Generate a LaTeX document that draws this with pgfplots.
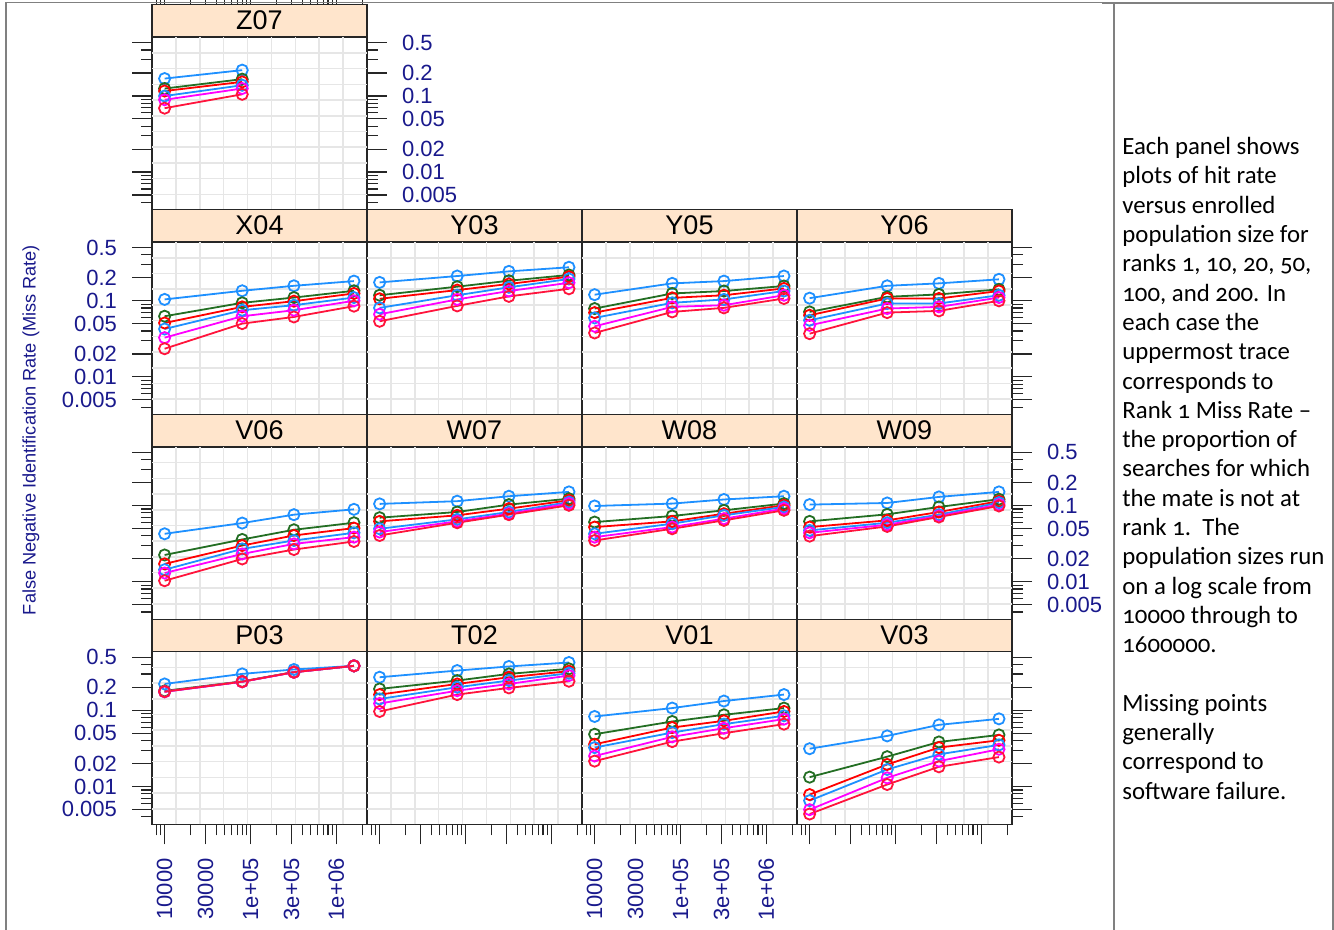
\documentclass[border=0pt]{standalone}
\usepackage{pgfplots}
\pgfplotsset{compat=1.18}
\usepackage{pgfplotstable}
\usepackage{fontspec}
\setmainfont{Liberation Sans}
\newfontfamily\notefont{Carlito}[Numbers=OldStyle]

\definecolor{stripbg}{RGB}{255,229,204}
\definecolor{tickblue}{RGB}{25,25,140}
\definecolor{gridc}{RGB}{230,230,230}
\definecolor{cA}{RGB}{30,144,255}
\definecolor{cB}{RGB}{35,110,35}
\definecolor{cC}{RGB}{255,0,0}
\definecolor{cE}{RGB}{255,0,255}
\definecolor{cF}{RGB}{255,20,60}

% miss rate by population size, ranks 1,10,20,50,100,200
\pgfplotstableread{
x r1 r10 r20 r50 r100 r200
10000 0.169 0.125 0.116 0.0997 0.089 0.069
80000 0.218 0.166 0.153 0.138 0.125 0.105
}\Zsev
\pgfplotstableread{
x r1 r10 r20 r50 r100 r200
10000 0.104 0.0625 0.051 0.0425 0.0327 0.0234
80000 0.135 0.0938 0.083 0.075 0.0625 0.050
320000 0.157 0.110 0.0986 0.0873 0.075 0.0612
1600000 0.181 0.135 0.1245 0.110 0.0997 0.0848
}\Xfour
\pgfplotstableread{
x r1 r10 r20 r50 r100 r200
10000 0.174 0.118 0.106 0.0805 0.0664 0.0537
80000 0.211 0.153 0.138 0.118 0.104 0.0855
320000 0.243 0.183 0.166 0.150 0.134 0.114
1600000 0.275 0.218 0.207 0.193 0.172 0.1435
}\Ythree
\pgfplotstableread{
x r1 r10 r20 r50 r100 r200
10000 0.120 0.0789 0.0698 0.0594 0.0461 0.0377
80000 0.169 0.1245 0.109 0.0938 0.083 0.0713
320000 0.181 0.134 0.118 0.104 0.0873 0.0805
1600000 0.211 0.156 0.145 0.134 0.118 0.107
}\Yfive
\pgfplotstableread{
x r1 r10 r20 r50 r100 r200
10000 0.108 0.0713 0.0644 0.0553 0.0475 0.0369
80000 0.157 0.1125 0.107 0.0919 0.0789 0.0698
320000 0.169 0.121 0.107 0.0919 0.083 0.0735
1600000 0.191 0.141 0.134 0.118 0.110 0.0997
}\Ysix
\pgfplotstableread{
x r1 r10 r20 r50 r100 r200
10000 0.0425 0.0224 0.0171 0.01435 0.01297 0.01028
80000 0.0588 0.0358 0.0298 0.0269 0.0231 0.01986
320000 0.0758 0.048 0.0404 0.0347 0.0313 0.0264
1600000 0.0891 0.0594 0.0505 0.0438 0.0384 0.0337
}\Vsix
\pgfplotstableread{
x r1 r10 r20 r50 r100 r200
10000 0.105 0.0692 0.0619 0.0495 0.0448 0.0404
80000 0.114 0.0822 0.0743 0.0658 0.0619 0.0594
320000 0.1324 0.1028 0.091 0.0822 0.078 0.0758
1600000 0.151 0.123 0.117 0.111 0.106 0.1007
}\Wseven
\pgfplotstableread{
x r1 r10 r20 r50 r100 r200
10000 0.0986 0.0606 0.0521 0.0425 0.0384 0.0347
80000 0.106 0.0728 0.0619 0.0577 0.0521 0.0495
320000 0.120 0.0865 0.078 0.0743 0.0671 0.0638
1600000 0.1324 0.106 0.1007 0.0957 0.091 0.0865
}\Weight
\pgfplotstableread{
x r1 r10 r20 r50 r100 r200
10000 0.1028 0.0619 0.0521 0.0471 0.0438 0.0396
80000 0.108 0.0766 0.0638 0.0594 0.0559 0.0531
320000 0.1297 0.0957 0.0822 0.0758 0.0728 0.0706
1600000 0.151 0.121 0.114 0.109 0.1028 0.0986
}\Wnine
\pgfplotstableread{
x r1 r10 r20 r50 r100 r200
10000 0.222 0.180 0.177 0.176 0.175 0.176
80000 0.301 0.240 0.238 0.238 0.237 0.238
320000 0.344 0.318 0.317 0.317 0.316 0.317
1600000 0.384 0.384 0.384 0.384 0.384 0.384
}\Pthree
\pgfplotstableread{
x r1 r10 r20 r50 r100 r200
10000 0.272 0.191 0.161 0.141 0.123 0.0966
80000 0.333 0.246 0.222 0.201 0.181 0.161
320000 0.377 0.301 0.272 0.246 0.222 0.197
1600000 0.425 0.351 0.327 0.307 0.286 0.241
}\Ttwo
\pgfplotstableread{
x r1 r10 r20 r50 r100 r200
10000 0.083 0.0485 0.0358 0.0324 0.0251 0.0215
80000 0.107 0.0713 0.0594 0.051 0.0448 0.0388
320000 0.1324 0.0873 0.0728 0.0658 0.0582 0.050
1600000 0.161 0.107 0.0966 0.0848 0.0766 0.0658
}\Vone
\pgfplotstableread{
x r1 r10 r20 r50 r100 r200
10000 0.0313 0.01324 0.00781 0.00651 0.00495 0.00434
80000 0.0461 0.0246 0.01945 0.0167 0.01297 0.0106
320000 0.0644 0.0384 0.0324 0.0264 0.0215 0.0181
1600000 0.0773 0.0475 0.0404 0.0351 0.0308 0.0243
}\Vthree

\pgfplotsset{
  my trace/.style={line width=0.9pt, mark=o, mark size=2.8pt, mark options={solid}},
  my panel/.style={
    scale only axis, width=107.5pt, height=86.35pt, anchor=north west,
    xmin=7130, xmax=2270000, ymin=0.00317, ymax=0.589,
    axis line style={black!85, line width=0.6pt},
    tick align=outside, major tick length=10pt, minor tick length=5.5pt,
    tick style={black!85, line width=0.6pt},
    xmajorticks=false, xminorticks=false, ymajorticks=false, yminorticks=false,
    tick label style={font=\fontsize{11}{12}\selectfont, text=tickblue},
    yticklabel shift=4pt, xticklabel shift=3.5pt,
    xticklabel style={rotate=90, anchor=east},
    title style={at={(0.5,1)}, anchor=south, yshift=-6pt, fill=stripbg, draw=black!85,
      line width=0.6pt, minimum width=107.5pt, minimum height=16pt, inner sep=0pt,
      font=\fontsize{13.5}{14}\selectfont},
  },
  my yticks/.style={ymajorticks=true, yminorticks=true,
    ytick={0.005,0.01,0.02,0.05,0.1,0.2,0.5},
    minor ytick={0.004,0.006,0.007,0.008,0.009,0.03,0.04,0.06,0.07,0.08,0.09,0.3,0.4}},
  my ylabels/.style={yticklabels={0.005,0.01,0.02,0.05,0.1,0.2,0.5}},
  my ynolabels/.style={yticklabels={,,,,,,}},
  my xticks/.style={xmajorticks=true, xminorticks=true, xtick pos=bottom,
    xtick={10000,30000,100000,300000,1000000},
    minor xtick={8000,9000,20000,40000,50000,60000,70000,80000,90000,200000,400000,500000,600000,700000,800000,900000,2000000}},
  my xlabels/.style={xticklabels={10000,30000,1e+05,3e+05,1e+06}},
  my xnolabels/.style={xticklabels={,,,,}},
}

\newcommand\latgrid{%
  \pgfplotsinvokeforeach{1,...,10}{\draw[gridc, line width=0.8pt] (rel axis cs:0,##1/11) -- (rel axis cs:1,##1/11);}%
  \pgfplotsinvokeforeach{1,...,8}{\draw[gridc, line width=0.8pt] (rel axis cs:##1/9,0) -- (rel axis cs:##1/9,1);}%
}
\newcommand\traces[1]{%
  \latgrid
  \addplot[my trace, cA] table[x=x, y=r1]{#1};
  \addplot[my trace, cB] table[x=x, y=r10]{#1};
  \addplot[my trace, cC] table[x=x, y=r20]{#1};
  \addplot[my trace, cA] table[x=x, y=r50]{#1};
  \addplot[my trace, cE] table[x=x, y=r100]{#1};
  \addplot[my trace, cF] table[x=x, y=r200]{#1};
}

\begin{document}
\begin{tikzpicture}
\useasboundingbox (0pt,0pt) rectangle (667pt,-465pt);

% row 1
\begin{loglogaxis}[my panel, at={(76pt,-18.65pt)}, title={Z07}, my yticks, my ylabels, ytick pos=both, yticklabel pos=right]
\traces{\Zsev}
\end{loglogaxis}
% top ticks above the Z07 strip
\begin{semilogxaxis}[at={(76pt,-2.65pt)}, anchor=north west, scale only axis, width=107.5pt, height=1pt,
  xmin=7130, xmax=2270000, ymin=0, ymax=1, xtick pos=top, ymajorticks=false, yminorticks=false,
  axis line style={draw=none}, tick align=outside, major tick length=10pt, minor tick length=5.5pt,
  tick style={draw=black!85, line width=0.6pt},
  xtick={10000,30000,100000,300000,1000000}, xticklabels={,,,,},
  minor xtick={8000,9000,20000,40000,50000,60000,70000,80000,90000,200000,400000,500000,600000,700000,800000,900000,2000000}]
\end{semilogxaxis}

% row 2
\begin{loglogaxis}[my panel, at={(76pt,-121.05pt)}, title={X04}, my yticks, my ylabels, ytick pos=left]
\traces{\Xfour}
\end{loglogaxis}
\begin{loglogaxis}[my panel, at={(183.5pt,-121.05pt)}, title={Y03}]
\traces{\Ythree}
\end{loglogaxis}
\begin{loglogaxis}[my panel, at={(291pt,-121.05pt)}, title={Y05}]
\traces{\Yfive}
\end{loglogaxis}
\begin{loglogaxis}[my panel, at={(398.5pt,-121.05pt)}, title={Y06}, my yticks, my ynolabels, ytick pos=right]
\traces{\Ysix}
\end{loglogaxis}

% row 3
\begin{loglogaxis}[my panel, at={(76pt,-223.45pt)}, title={V06}, my yticks, my ynolabels, ytick pos=left]
\traces{\Vsix}
\end{loglogaxis}
\begin{loglogaxis}[my panel, at={(183.5pt,-223.45pt)}, title={W07}]
\traces{\Wseven}
\end{loglogaxis}
\begin{loglogaxis}[my panel, at={(291pt,-223.45pt)}, title={W08}]
\traces{\Weight}
\end{loglogaxis}
\begin{loglogaxis}[my panel, at={(398.5pt,-223.45pt)}, title={W09}, my yticks, my ylabels, ytick pos=right, yticklabel pos=right]
\traces{\Wnine}
\end{loglogaxis}

% row 4
\begin{loglogaxis}[my panel, at={(76pt,-325.85pt)}, title={P03}, my yticks, my ylabels, ytick pos=left, my xticks, my xlabels]
\traces{\Pthree}
\end{loglogaxis}
\begin{loglogaxis}[my panel, at={(183.5pt,-325.85pt)}, title={T02}, my xticks, my xnolabels]
\traces{\Ttwo}
\end{loglogaxis}
\begin{loglogaxis}[my panel, at={(291pt,-325.85pt)}, title={V01}, my xticks, my xlabels]
\traces{\Vone}
\end{loglogaxis}
\begin{loglogaxis}[my panel, at={(398.5pt,-325.85pt)}, title={V03}, my yticks, my ynolabels, ytick pos=right, my xticks, my xnolabels]
\traces{\Vthree}
\end{loglogaxis}

\node[rotate=90, text=tickblue, font=\fontsize{9.1}{10}\selectfont] at (15.5pt,-215pt)
  {False Negative Identification Rate (Miss Rate)};

% page frame
\draw[gray, line width=0.6pt] (3pt,-465pt) -- (3pt,-1.3pt) -- (667pt,-1.3pt);
\draw[gray, line width=1.2pt] (551pt,-1.6pt) -- (667pt,-1.6pt);
\draw[gray, line width=1.2pt] (557pt,-1.6pt) -- (557pt,-465pt);
\draw[gray, line width=1.2pt] (666.6pt,-1.6pt) -- (666.6pt,-465pt);

\node[anchor=north west, align=left, inner sep=0pt,
  font=\notefont\fontsize{12.4}{14.65}\selectfont] at (561pt,-68.5pt)
{Each panel shows\\
plots of hit rate\\
versus enrolled\\
population size for\\
ranks 1, 10, 20, 50,\\
100, and 200. In\\
each case the\\
uppermost trace\\
corresponds to\\
Rank 1 Miss Rate –\\
the proportion of\\
searches for which\\
the mate is not at\\
rank 1.\ \ The\\
population sizes run\\
on a log scale from\\
10000 through to\\
1600000.\\[14.65pt]
Missing points\\
generally\\
correspond to\\
software failure.};
\end{tikzpicture}
\end{document}
